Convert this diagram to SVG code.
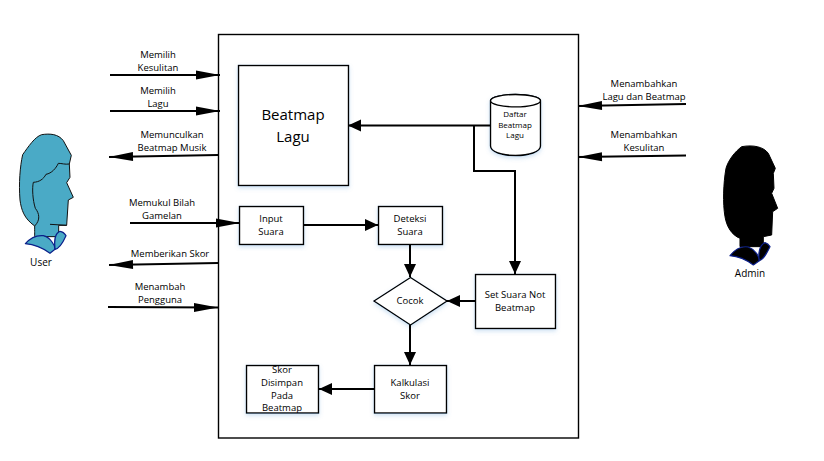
<svg xmlns="http://www.w3.org/2000/svg" width="824" height="461" viewBox="0 0 824 461">
<style>
text{font-family:"Open Sans","Noto Sans","Liberation Sans",sans-serif;font-size:9.5px;fill:#000;text-anchor:middle}
.box{fill:#fff;stroke:#000;stroke-width:1.4;filter:url(#sh)}
.big{font-size:15px}
.c{fill:none;stroke:#000;stroke-width:2}
.l{marker-end:url(#long)}
.s{marker-end:url(#short)}
.skin{fill:#4aaac6;stroke:#111;stroke-width:3;stroke-linejoin:round}
.dark{fill:#000;stroke:#000;stroke-width:3;stroke-linejoin:round}
.col{fill:#4aaac6;stroke:#0b1f8a;stroke-width:3.5;stroke-linejoin:round}
.cold{fill:#000;stroke:#0b1f8a;stroke-width:3.5;stroke-linejoin:round}
</style>
<defs>
<filter id="sh" x="-10%" y="-10%" width="120%" height="125%"><feDropShadow dx="0" dy="2" stdDeviation="2" flood-color="#5b9bd5" flood-opacity="0.3"/></filter>
<marker id="long" markerUnits="userSpaceOnUse" markerWidth="26" markerHeight="10" refX="24" refY="5" orient="auto" overflow="visible"><path d="M0 .5L24 5L0 9.500Z" fill="#000"/></marker>
<marker id="short" markerUnits="userSpaceOnUse" markerWidth="14" markerHeight="14" refX="13" refY="6" orient="auto" overflow="visible"><path d="M0 0L13 6L0 12Z" fill="#000"/></marker>
</defs>

<g id="system"><rect x="218.500" y="34.500" width="360" height="403.500" fill="#fff" stroke="#000" stroke-width="1.400"/></g>

<g id="user">
<g transform="translate(0 120) scale(.3333)">
<path class="skin" d="M104 318C104 335 104 345 104 350L176 350L176 316L200 316L205 240L220 232L200 188L210 172L208 132L214 106L190 62C175 42 150 40 125 44C105 50 85 80 68 104C60 140 56 190 60 240C64 270 72 295 104 318Z"/>
<path fill="none" stroke="#111" stroke-width="3" d="M208 132C195 134 185 130 175 130C168 145 155 160 138 163C130 178 118 186 100 187C96 205 98 240 106 265C118 280 122 300 104 318M150 313L200 316"/>
<path class="col" d="M76 371C90 355 110 345 130 347C150 352 165 375 165 388L150 400C130 385 100 373 76 371Z"/>
<path class="col" d="M165 388C162 365 165 340 180 334C190 335 195 342 198 347C190 365 178 385 165 388Z"/>
</g>
<text x="41" y="266" style="font-size:10px">User</text>
</g>

<g id="admin">
<g transform="translate(700 130) scale(.3333)">
<path class="dark" d="M120 325L120 350L190 350L190 320L215 315L218 245L233 235L215 190L222 175L220 130L226 115L205 70C190 50 160 44 125 50C105 65 85 90 78 115C70 160 68 220 75 260C80 290 95 315 120 325Z"/>
<path class="cold" d="M90 377C105 358 125 348 145 351C165 358 178 380 178 392L160 405C140 390 115 379 90 377Z"/>
<path class="cold" d="M178 392C174 370 178 345 195 338C203 340 207 345 210 350C200 370 190 390 178 392Z"/>
</g>
<text x="750" y="277" style="font-size:10px">Admin</text>
</g>

<g id="beatmap"><rect class="box" x="238.500" y="65.500" width="110" height="120"/><text class="big" x="293" y="120">Beatmap</text><text class="big" x="293" y="142">Lagu</text></g>

<g id="daftar">
<path class="box" d="M490.500 101V146C490.500 152 502 155.500 515.500 155.500S540.500 152 540.500 146V101C540.500 97 528 94.500 515.500 94.500S490.500 97 490.500 101Z"/>
<ellipse cx="515.500" cy="100.700" rx="25" ry="6.200" fill="#fff" stroke="#000" stroke-width="1.400"/>
<text x="515" y="117" style="font-size:8px">Daftar</text><text x="515" y="128" style="font-size:8px">Beatmap</text><text x="515" y="138" style="font-size:8px">Lagu</text>
</g>

<g id="input"><rect class="box" x="239.500" y="206.500" width="64" height="38"/><text x="271" y="222">Input</text><text x="271" y="235">Suara</text></g>
<g id="deteksi"><rect class="box" x="378.500" y="206.500" width="64" height="38"/><text x="410" y="222">Deteksi</text><text x="410" y="235">Suara</text></g>
<g id="cocok"><path class="box" d="M374 301L410.500 277.500L447 301L410.500 325Z"/><text x="410" y="304">Cocok</text></g>
<g id="setsuara"><rect class="box" x="475.500" y="274.500" width="80" height="54"/><text x="515" y="298">Set Suara Not</text><text x="515" y="311">Beatmap</text></g>
<g id="kalkulasi"><rect class="box" x="374.500" y="365.500" width="72" height="47.500"/><text x="410" y="386">Kalkulasi</text><text x="410" y="399">Skor</text></g>
<g id="skor"><rect class="box" x="246.500" y="365.500" width="72" height="47.500"/><text x="282" y="373">Skor</text><text x="282" y="386">Disimpan</text><text x="282" y="399">Pada</text><text x="282" y="411">Beatmap</text></g>

<g id="connectors">
<path class="c l" d="M110 75H220"/>
<path class="c l" d="M110 111H220"/>
<path class="c l" d="M218 155L109 157"/>
<path class="c l" d="M130 223H240"/>
<path class="c l" d="M218 263L109 265"/>
<path class="c l" d="M108 307L218 307.500"/>
<path class="c l" d="M686 104L578 106"/>
<path class="c l" d="M686 155.500L578 157"/>
<path class="c s" d="M491 125.500H348"/>
<path class="c s" d="M474 125.500V171H515V274"/>
<path class="c s" d="M304 225H378"/>
<path class="c s" d="M410 244V277"/>
<path class="c s" d="M475 301H447"/>
<path class="c s" d="M410 325V365"/>
<path class="c s" d="M374 389H319"/>
</g>

<g id="labels">
<text x="158" y="58">Memilih</text><text x="158" y="71">Kesulitan</text>
<text x="158" y="94">Memilih</text><text x="158" y="107">Lagu</text>
<text x="172" y="138">Memunculkan</text><text x="172" y="151">Beatmap Musik</text>
<text x="162" y="206">Memukul Bilah</text><text x="162" y="219">Gamelan</text>
<text x="170" y="257">Memberikan Skor</text>
<text x="160" y="290">Menambah</text><text x="160" y="303">Pengguna</text>
<text x="644" y="87">Menambahkan</text><text x="644" y="100">Lagu dan Beatmap</text>
<text x="644" y="138">Menambahkan</text><text x="644" y="151">Kesulitan</text>
</g>
</svg>
